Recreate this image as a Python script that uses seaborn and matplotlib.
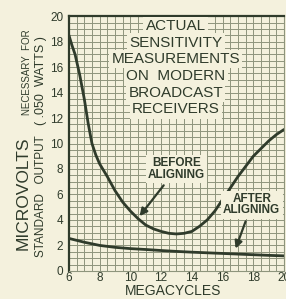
import matplotlib
matplotlib.use("Agg")
import matplotlib.pyplot as plt
import seaborn as sns
import pandas as pd

# -----------------------------
# Data
# -----------------------------
mc_before = [6.0, 6.2, 6.4, 6.7, 7.0, 7.25, 7.5, 7.75, 8.0, 8.5, 9.0, 9.5, 10.0,
             10.5, 11.0, 11.5, 12.0, 12.5, 13.0, 13.5, 14.0, 14.5, 15.0, 15.5,
             16.0, 16.5, 17.0, 17.5, 18.0, 18.5, 19.0, 19.5, 20.0]
uv_before = [18.5, 17.7, 17.0, 15.4, 13.5, 11.6, 10.0, 9.1, 8.4, 7.4, 6.3, 5.4, 4.7,
             4.1, 3.6, 3.3, 3.1, 2.95, 2.9, 2.95, 3.1, 3.5, 4.0, 4.7,
             5.6, 6.5, 7.4, 8.2, 9.0, 9.6, 10.2, 10.7, 11.1]

mc_after = [6, 7, 8, 9, 10, 11, 12, 13, 14, 15, 16, 17, 18, 19, 20]
uv_after = [2.55, 2.25, 2.0, 1.85, 1.75, 1.68, 1.6, 1.53, 1.47, 1.42, 1.37,
            1.32, 1.27, 1.22, 1.18]

x_ticks = [6, 8, 10, 12, 14, 16, 18, 20]
y_ticks = [0, 2, 4, 6, 8, 10, 12, 14, 16, 18, 20]

title_lines = ["ACTUAL", "SENSITIVITY", "MEASUREMENTS", "ON  MODERN",
               "BROADCAST", "RECEIVERS"]

df_before = pd.DataFrame({"mc": mc_before, "uv": uv_before})
df_after = pd.DataFrame({"mc": mc_after, "uv": uv_after})

# -----------------------------
# Style
# -----------------------------
paper = "#f4f1dd"
ink = "#2f3b2b"
grid = "#8e957d"

sns.set_style("white")
plt.rcParams["font.family"] = ["Liberation Sans", "DejaVu Sans"]

fig = plt.figure(figsize=(2.86, 2.99), dpi=100, facecolor=paper)
ax = fig.add_axes([0.241, 0.094, 0.752, 0.852])
ax.set_facecolor(paper)

# graph paper
ax.set_xticks([6 + 0.5 * i for i in range(29)], minor=True)
ax.set_yticks([0.5 * i for i in range(41)], minor=True)
ax.grid(which="minor", color=grid, lw=0.7)
ax.grid(which="major", color=grid, lw=0.7)
ax.set_axisbelow(True)

# -----------------------------
# Curves
# -----------------------------
sns.lineplot(data=df_before, x="mc", y="uv", ax=ax, color=ink, lw=2.0)
sns.lineplot(data=df_after, x="mc", y="uv", ax=ax, color=ink, lw=2.0)

ax.set_xlim(6, 20)
ax.set_ylim(0, 20)
ax.set_xticks(x_ticks)
ax.set_yticks(y_ticks)
ax.tick_params(which="both", length=0, labelsize=8.5, labelcolor=ink)
ax.tick_params(axis="x", pad=1)
ax.tick_params(axis="y", pad=4)
ax.set_xlabel("")
ax.set_ylabel("")

for side in ["left", "top"]:
    ax.spines[side].set_color(ink)
    ax.spines[side].set_linewidth(1.6)
for side in ["right", "bottom"]:
    ax.spines[side].set_color(grid)
    ax.spines[side].set_linewidth(0.8)

box = dict(boxstyle="square,pad=0.15", fc=paper, ec="none")

# title block, one box per line
for i, line in enumerate(title_lines):
    ax.text(0.497, 0.962 - i * 0.0655, line, transform=ax.transAxes,
            ha="center", va="center", fontsize=11, color=ink, bbox=box)

# callouts
ax.annotate("BEFORE\nALIGNING", xy=(10.6, 4.3), xytext=(13.0, 8.0),
            ha="center", va="center", fontsize=8.5, fontweight="bold",
            color=ink, linespacing=0.95,
            bbox=dict(boxstyle="square,pad=0.2", fc=paper, ec="none"),
            arrowprops=dict(arrowstyle="-|>", color=ink, lw=1.6,
                            mutation_scale=11, shrinkA=2, shrinkB=0))
ax.annotate("AFTER\nALIGNING", xy=(16.85, 1.75), xytext=(17.9, 5.2),
            ha="center", va="center", fontsize=8.5, fontweight="bold",
            color=ink, linespacing=0.95,
            bbox=dict(boxstyle="square,pad=0.2", fc=paper, ec="none"),
            arrowprops=dict(arrowstyle="-|>", color=ink, lw=1.6,
                            mutation_scale=11, shrinkA=2, shrinkB=0))

# axis titles
fig.text(0.605, 0.012, "MEGACYCLES", ha="center", va="baseline",
         fontsize=10, color=ink)
fig.text(0.082, 0.164, "MICROVOLTS", rotation=90, ha="center", va="bottom",
         fontsize=12.5, color=ink)
fig.text(0.094, 0.615, "NECESSARY  FOR", rotation=90, ha="center",
         va="bottom", fontsize=7, color=ink)
fig.text(0.145, 0.14, "STANDARD   OUTPUT", rotation=90,
         ha="center", va="bottom", fontsize=8.5, color=ink)
fig.text(0.145, 0.582, "( .050  WATTS )", rotation=90,
         ha="center", va="bottom", fontsize=9, color=ink)

fig.savefig("out.png", dpi=100, facecolor=paper)
